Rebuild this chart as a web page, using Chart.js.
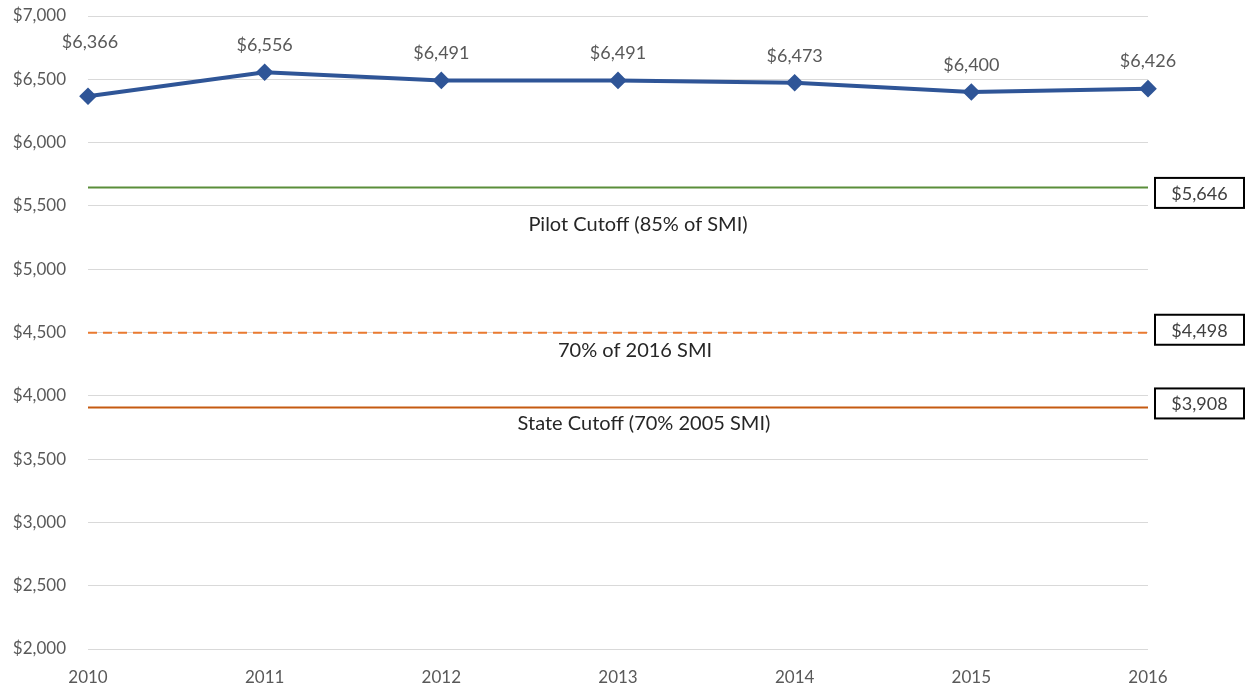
<!DOCTYPE html>
<html><head><meta charset="utf-8">
<script src="https://cdn.jsdelivr.net/npm/chart.js@4/dist/chart.umd.min.js"></script>
<style>html,body{margin:0;padding:0;background:#fff}#wrap{width:1248px;height:685px}</style>
</head><body><div id="wrap"><canvas id="c" width="1248" height="685"></canvas></div>
<script>
const years = ["2010","2011","2012","2013","2014","2015","2016"];
const income = [6366,6556,6491,6491,6473,6400,6426];
const pilotCutoff = 5646;
const smi2016 = 4498;
const stateCutoff = 3908;
const refLabels = ["Pilot Cutoff (85% of SMI)","70% of 2016 SMI","State Cutoff (70% 2005 SMI)"];
const refValues = [pilotCutoff, smi2016, stateCutoff];
const yMin = 2000, yMax = 7000, yStep = 500;

const FONT = "Lato, 'Open Sans', sans-serif";
const refColors = ["#5A8E3A","#E97A30","#C55A11"];
const refDash = [[],[9,6],[]];
const textOffsets = [37,18,16];
const textShiftX = [20,17,26];
const boxOffsets = [5.5,-3,-4];

const overlay = {
  id:'overlay',
  afterDatasetsDraw(chart){
    const ctx = chart.ctx, y = chart.scales.y, x = chart.scales.x, ca = chart.chartArea;
    ctx.save();
    ctx.font = "18px " + FONT;
    ctx.fillStyle = "#595959";
    ctx.textAlign = "center"; ctx.textBaseline = "middle";
    income.forEach((v,i)=>{
      const px = x.getPixelForValue(i), py = y.getPixelForValue(v);
      ctx.fillText("$" + v.toLocaleString("en-US"), px + (i===0?2:0), py - (i===0?54:27));
    });
    const cx = (ca.left + ca.right)/2;
    refValues.forEach((v,i)=>{
      const py = y.getPixelForValue(v);
      ctx.textAlign = "center";
      ctx.fillStyle = "#262626";
      ctx.font = "20px " + FONT;
      ctx.fillText(refLabels[i], cx + textShiftX[i], py + textOffsets[i]);
      const bx = 1155, bw = 89, bh = 30;
      const by = py + boxOffsets[i] - bh/2;
      ctx.lineWidth = 2; ctx.strokeStyle = "#000";
      ctx.strokeRect(bx, by, bw, bh);
      ctx.font = "18px " + FONT;
      ctx.fillStyle = "#404040";
      ctx.fillText("$" + v.toLocaleString("en-US"), bx + bw/2, by + bh/2 + 1);
    });
    ctx.restore();
  }
};

const refSets = refValues.map((v,i)=>({
  label: refLabels[i],
  data: years.map(()=>v),
  borderColor: refColors[i],
  borderWidth: 2,
  borderDash: refDash[i],
  pointRadius: 0,
  fill:false,
  order: 2
}));

new Chart(document.getElementById('c'), {
  type:'line',
  data:{ labels: years, datasets:[
    { label:"Income", data: income, borderColor:"#2F5597", backgroundColor:"#2F5597",
      borderWidth:4, pointStyle:'rectRot', pointRadius:6, pointHoverRadius:6, order:1 },
    ...refSets
  ]},
  options:{
    responsive:false, animation:false,
    layout:{ padding:{ left:0, right:100, top:16, bottom:0 } },
    plugins:{ legend:{display:false}, tooltip:{enabled:false} },
    scales:{
      x:{ offset:false, grid:{display:false}, border:{display:false},
          afterFit(s){ s.height = 36; s.paddingLeft = 0; s.paddingRight = 0; },
          ticks:{ color:"#595959", font:{family:FONT, size:17}, padding:10, maxRotation:0 } },
      y:{ min:yMin, max:yMax, grid:{color:"#D9D9D9", drawTicks:false}, border:{display:false},
          afterFit(s){ s.width = 88; s.paddingTop = 0; s.paddingBottom = 0; },
          ticks:{ stepSize:yStep, color:"#595959", font:{family:FONT, size:17}, padding:22,
                  callback:v=>"$" + v.toLocaleString("en-US") } }
    }
  },
  plugins:[overlay]
});
</script></body></html>
